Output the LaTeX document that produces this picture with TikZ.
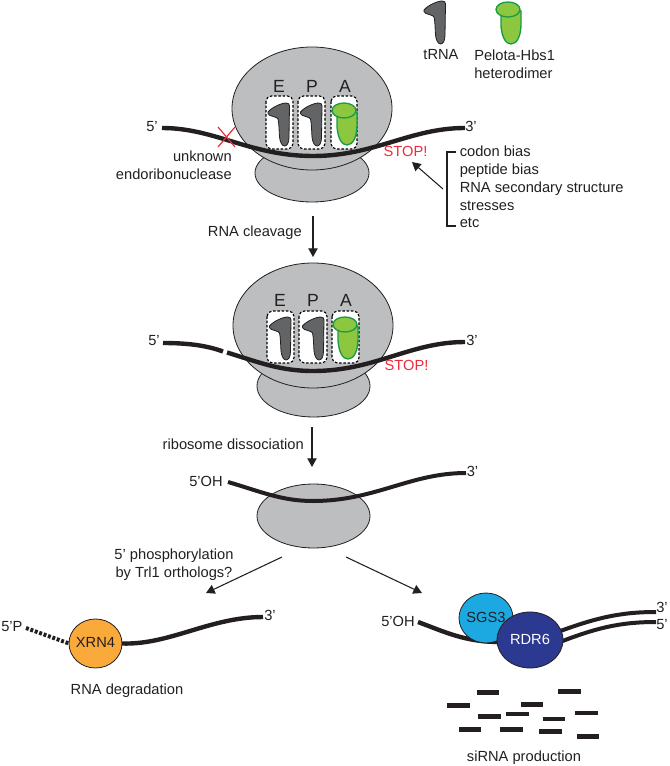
\documentclass[tikz,border=0pt]{standalone}
\usepackage{fontspec}
\setmainfont{Liberation Sans}
\usetikzlibrary{shapes.geometric,arrows.meta}
\definecolor{ribo}{HTML}{BCBEC0}
\definecolor{ink}{HTML}{231F20}
\definecolor{trnafill}{HTML}{636466}
\definecolor{pelfill}{HTML}{8DC63F}
\definecolor{pelline}{HTML}{1A9B48}
\definecolor{stopred}{HTML}{EE2A3C}
\definecolor{xrn}{HTML}{FAA93B}
\definecolor{sgs}{HTML}{1CA9E1}
\definecolor{rdr}{HTML}{2B3990}
\tikzset{
  blob/.style n args={3}{ellipse,draw=ink,line width=0.6pt,fill=#3,
    minimum width=#1*0.75pt,minimum height=#2*0.75pt,inner sep=0pt,outer sep=0pt},
  label/.style={font=\fontsize{11}{13}\selectfont,text=ink,inner sep=0pt,
    text height=1.5ex,text depth=0.3ex},
  stoplabel/.style={label,text=stopred},
  sitelabel/.style={font=\fontsize{13.2}{15}\selectfont,text=ink,inner sep=0pt},
  rna/.style={line width=3.3pt,draw=ink,line cap=butt},
  thinrna/.style={line width=3pt,draw=ink,line cap=butt},
  flow/.style={line width=0.8pt,draw=ink,-{Triangle[length=6.5pt,width=7pt]}},
  sitebox/.style={draw=black,fill=white,dash pattern=on 1.9pt off 1.3pt,line width=0.85pt,rounded corners=4pt},
  frag/.style={draw=none,fill=ink,minimum width=17pt,minimum height=3.6pt,inner sep=0pt},
  trna/.pic={
    \draw[fill=trnafill,draw=ink,line width=0.6pt]
      (0,9) .. controls (4,4) and (14,0) .. (18,0)
      .. controls (20.5,0) and (21.5,1) .. (21.5,3)
      -- (21,34) .. controls (21,40) and (19,43) .. (16.5,43)
      .. controls (14,43) and (12,39) .. (11.5,34)
      .. controls (11,26) and (11,20) .. (10,16)
      .. controls (9,14) and (5,14) .. (2,12.5)
      .. controls (0,11.5) and (-0.5,10) .. (0,9) -- cycle;
  },
  pelota/.pic={
    \draw[fill=pelfill,draw=pelline,line width=1pt]
      (5,12) -- (5,24) .. controls (6,36) and (10,42) .. (15,42)
      .. controls (21,42) and (25,34) .. (25,22) -- (25,9) -- cycle;
    \draw[fill=pelfill,draw=pelline,line width=1pt]
      (12,7.5) ellipse [x radius=12,y radius=7.5];
  }
}
\begin{document}
\begin{tikzpicture}[x=0.75pt,y=-0.75pt]
\useasboundingbox (0,0) rectangle (669,766);

% --- legend ---
\pic at (424,1) {trna};
\pic at (496,2) {pelota};
\node[label] (legtrna) at (441,55) {tRNA};
\node[label,anchor=west] (legpel1) at (474,56) {Pelota-Hbs1};
\node[label,anchor=west] (legpel2) at (474,74) {heterodimer};

% --- stalled ribosome ---
\node[blob={114}{58}{ribo}] (smalla) at (312,173) {};
\node[blob={160}{123}{ribo}] (biga) at (312,108.5) {};
\node[sitelabel] (ea) at (279,86) {E};
\node[sitelabel] (pa) at (312,86) {P};
\node[sitelabel] (aa) at (345,86) {A};
\draw[sitebox] (266,96) rectangle (293,149);
\draw[sitebox] (298,96) rectangle (325,149);
\draw[sitebox] (331,96) rectangle (357,149);
\pic at (268,103) {trna};
\pic at (300.5,103) {trna};
\pic at (332,103) {pelota};
\coordinate (ra0) at (162,128);
\coordinate (ra1) at (313,156);
\coordinate (ra2) at (465,128);
\draw[rna] (ra0) .. controls (215,128) and (250,156) .. (ra1)
  .. controls (375,156) and (410,128) .. (ra2);
\node[label] (fivea) at (152,127) {5’};
\node[label] (threea) at (471,127) {3’};
\coordinate (xa1) at (218,127);
\coordinate (xa2) at (235,147);
\coordinate (xa3) at (235,127);
\coordinate (xa4) at (218,147);
\draw[stopred,line width=0.9pt] (xa1) -- (xa2) (xa3) -- (xa4);
\node[label,anchor=east] (unk1) at (232,157) {unknown};
\node[label,anchor=east] (unk2) at (232,175) {endoribonuclease};
\node[stoplabel] (stopa) at (405.5,152) {STOP!};

% --- causes of stalling ---
\coordinate (brt) at (456,152);
\coordinate (brb) at (456,226);
\draw[ink,line width=1pt] (brt) -- (447,152) -- (447,226) -- (brb);
\node[label,anchor=west] (c1) at (459.5,152) {codon bias};
\node[label,anchor=west] (c2) at (459.5,170) {peptide bias};
\node[label,anchor=west] (c3) at (459.5,188) {RNA secondary structure};
\node[label,anchor=west] (c4) at (459.5,206) {stresses};
\node[label,anchor=west] (c5) at (459.5,223) {etc};
\coordinate (causefrom) at (443,189);
\coordinate (causeto) at (412,162);
\draw[flow] (causefrom) -- (causeto);

% --- cleavage step ---
\coordinate (cleavefrom) at (313,216);
\coordinate (cleaveto) at (313,257);
\draw[flow] (cleavefrom) -- (cleaveto);
\node[label,anchor=east] (cleave) at (302,232) {RNA cleavage};

% --- cleaved complex ---
\node[blob={113}{62}{ribo}] (smallb) at (313.5,386) {};
\node[blob={160}{125}{ribo}] (bigb) at (313,325.5) {};
\node[sitelabel] (eb) at (280,300) {E};
\node[sitelabel] (pb) at (313,300) {P};
\node[sitelabel] (ab) at (346,300) {A};
\draw[sitebox] (267,311) rectangle (294,363);
\draw[sitebox] (299,311) rectangle (327,363);
\draw[sitebox] (332,311) rectangle (359,363);
\pic at (269.5,317) {trna};
\pic at (302.5,317) {trna};
\pic at (333,317) {pelota};
\coordinate (rb0) at (163,343);
\coordinate (rb1) at (223,351.5);
\coordinate (rb2) at (227,352.5);
\coordinate (rb3) at (313,371);
\coordinate (rb4) at (465,342);
\draw[rna] (rb0) .. controls (190,343) and (208,346) .. (rb1);
\draw[rna] (rb2) .. controls (258,362) and (280,371) .. (rb3)
  .. controls (375,371) and (410,342) .. (rb4);
\node[label] (fiveb) at (154,341) {5’};
\node[label] (threeb) at (472,341) {3’};
\node[stoplabel] (stopb) at (406.5,366) {STOP!};

% --- dissociation step ---
\coordinate (dissfrom) at (312,427);
\coordinate (dissto) at (312,467);
\draw[flow] (dissfrom) -- (dissto);
\node[label,anchor=east] (diss) at (304,445) {ribosome dissociation};

% --- released subunit ---
\node[blob={113}{64}{ribo}] (subc) at (313.5,516) {};
\coordinate (rc0) at (228,482);
\coordinate (rc1) at (313,501);
\coordinate (rc2) at (466,473);
\draw[thinrna] (rc0) .. controls (262,492) and (282,501) .. (rc1)
  .. controls (375,501) and (410,473) .. (rc2);
\node[label,anchor=east] (fiveoh) at (223,482) {5’OH};
\node[label] (threec) at (472.5,472) {3’};

% --- branch to degradation ---
\coordinate (lfrom) at (282,557);
\coordinate (lto) at (206,593);
\draw[flow] (lfrom) -- (lto);
\node[label] (phos1) at (174,555) {5’ phosphorylation};
\node[label] (phos2) at (174,573) {by Trl1 orthologs?};
\node[blob={53}{49}{xrn}] (xrn) at (95.5,643.5) {};
\node[label] at (xrn) {XRN4};
\coordinate (xend) at (263,617);
\coordinate (xstart) at (26,628);
\draw[rna] (xrn.east) .. controls (170,645) and (210,617) .. (xend);
\draw[ink,line width=3pt,dash pattern=on 2.2pt off 1.3pt] (xstart) -- (xrn.west);
\node[label,anchor=west] (fivep) at (1,627) {5’P};
\node[label] (threed) at (270,616) {3’};
\node[label] (degr) at (127,690) {RNA degradation};

% --- branch to siRNA ---
\coordinate (rfrom) at (346,557);
\coordinate (rto) at (422,593);
\draw[flow] (rfrom) -- (rto);
\coordinate (sstart) at (418,622);
\coordinate (smid) at (500,642);
\coordinate (u3) at (656,612);
\coordinate (u5) at (656,622);
\draw[rna] (sstart) .. controls (445,632) and (465,642) .. (smid);
\node[blob={54}{50}{sgs}] (sgs) at (486,618) {};
\node[label] at (sgs) {SGS3};
\draw[thinrna] (555,633) .. controls (595,618) and (620,612) .. (u3);
\draw[thinrna] (555,644) .. controls (595,628) and (620,622) .. (u5);
\node[blob={66}{56}{rdr}] (rdr) at (530,640) {};
\node[label,text=white] at (rdr) {RDR6};
\node[label,anchor=east] (fiveoh2) at (415,622) {5’OH};
\node[label] (threee) at (662,608) {3’};
\node[label] (fivee) at (662,625) {5’};
\node[frag] (f1) at (488,692.7) {};
\node[frag] (f2) at (569.3,691.3) {};
\node[frag] (f3) at (458.7,705.7) {};
\node[frag] (f4) at (532,704.3) {};
\node[frag] (f5) at (489.3,716.7) {};
\node[frag] (f6) at (517.3,714) {};
\node[frag] (f7) at (554,719) {};
\node[frag] (f8) at (586.7,713) {};
\node[frag] (f9) at (470,729.7) {};
\node[frag] (f10) at (511.7,729.7) {};
\node[frag] (f11) at (550.3,731.3) {};
\node[frag] (f12) at (588,736.7) {};
\node[label] (sirna) at (524,757) {siRNA production};
\end{tikzpicture}
\end{document}
